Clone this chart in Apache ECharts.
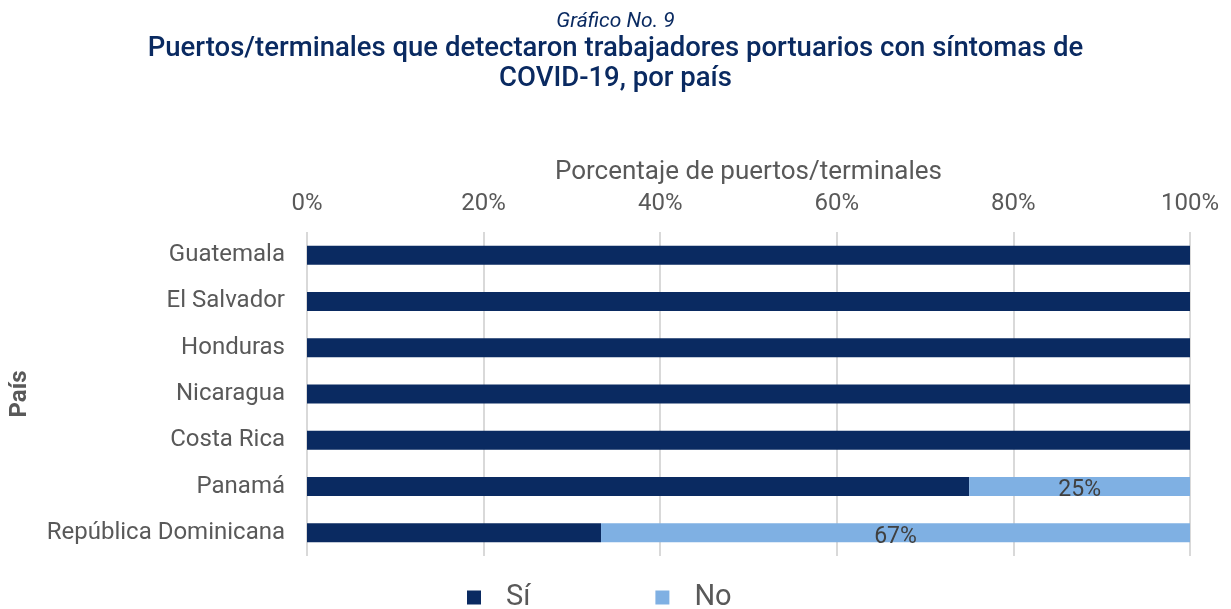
<!DOCTYPE html>
<html><head><meta charset="utf-8">
<script src="https://cdn.jsdelivr.net/npm/echarts@6/dist/echarts.min.js"></script>
<style>html,body{margin:0;padding:0;background:#fff}#c{width:1231px;height:609px}</style>
</head><body><div id="c"></div>
<script>
const categories = ['Guatemala','El Salvador','Honduras','Nicaragua','Costa Rica','Panamá','República Dominicana'];
const si = [100,100,100,100,100,75,33.3];
const no = [0,0,0,0,0,25,66.7];
const ticks = [0,20,40,60,80,100];

const chart = echarts.init(document.getElementById('c'));
chart.setOption({
  animation:false,
  title:[
    {text:'Gráfico No. 9', left:'center', top:6, textStyle:{fontFamily:'Roboto, sans-serif', fontStyle:'italic', fontWeight:'normal', fontSize:21, color:'#0a2a61'}},
    {text:'Puertos/terminales que detectaron trabajadores portuarios con síntomas de\nCOVID-19, por país', left:'center', top:29, textStyle:{fontFamily:'Roboto, sans-serif', fontWeight:500, fontSize:27.5, lineHeight:30, color:'#0a2a61', align:'center'}}
  ],
  legend:{
    left:462, top:578, icon:'rect', itemWidth:14, itemHeight:14, itemGap:125,
    textStyle:{fontSize:29, color:'#595959', fontFamily:'Roboto, sans-serif', padding:[0,0,0,20]},
    data:['Sí','No']
  },
  grid:{left:307, right:41, top:232, bottom:53, outerBoundsMode:'none', containLabel:false},
  xAxis:{
    type:'value', position:'top', min:0, max:100, interval:20,
    name:'Porcentaje de puertos/terminales', nameLocation:'middle', nameGap:47,
    nameTextStyle:{fontSize:26, color:'#595959', fontFamily:'Roboto, sans-serif'},
    axisLabel:{formatter:'{value}%', fontSize:24, color:'#595959', margin:16, fontFamily:'Roboto, sans-serif'},
    axisLine:{show:false}, axisTick:{show:false},
    splitLine:{lineStyle:{color:'#d9d9d9', width:2}}
  },
  yAxis:{
    type:'category', data:categories, inverse:true,
    name:'País', nameLocation:'middle', nameGap:275,
    nameTextStyle:{fontSize:24, fontWeight:'bold', color:'#595959', fontFamily:'Roboto, sans-serif'},
    axisLabel:{fontSize:24, color:'#595959', margin:22, fontFamily:'Roboto, sans-serif'},
    axisLine:{show:false}, axisTick:{show:false}
  },
  series:[
    {name:'Sí', type:'bar', stack:'a', data:si, barWidth:19, itemStyle:{color:'#0a2a61'}},
    {name:'No', type:'bar', stack:'a', data:no, barWidth:19, itemStyle:{color:'#7fb0e3'},
     label:{show:true, position:'inside', offset:[0,4], fontSize:23, color:'#404040', fontFamily:'Roboto, sans-serif',
       formatter:p=>p.value>0?Math.round(p.value)+'%':''}}
  ]
});
</script></body></html>
